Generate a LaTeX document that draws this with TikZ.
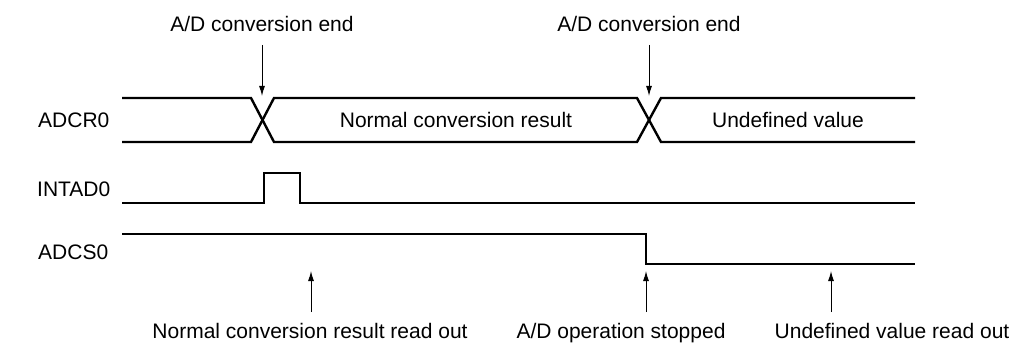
\documentclass[tikz,border=0pt]{standalone}
\usepackage{fontspec}
\setmainfont{Liberation Sans}
\usepackage{tikz}
\usetikzlibrary{arrows.meta, positioning}

\begin{document}
\begin{tikzpicture}[
  x=1pt, y=-1pt,
  sig/.style={line width=2.4pt, line join=miter},
  lbl/.style={inner sep=0pt, anchor=base, font=\fontsize{21}{25}\selectfont},
  signame/.style={lbl, anchor=base west},
  arr/.style={-{Latex[length=10pt, width=6pt]}, line width=1pt}
]
  \useasboundingbox (0,0) rectangle (1016,347);

  % signal names
  \node[signame] (adcr) at (38,128) {ADCR0};
  \node[signame] (intad) at (37,197) {INTAD0};
  \node[signame] (adcs) at (38,259) {ADCS0};

  % ADCR0 bus
  \draw[sig] (122,98) -- (251,98) -- (274,142) -- (637,142) -- (661,98) -- (915,98);
  \draw[sig] (122,142) -- (251,142) -- (274,98) -- (637,98) -- (661,142) -- (915,142);
  \node[lbl] (res) at (456,128) {Normal conversion result};
  \node[lbl] (undef) at (788,128) {Undefined value};

  % INTAD0
  \draw[sig] (122,203) -- (264,203) -- (264,173) -- (300,173) -- (300,203) -- (915,203);

  % ADCS0
  \draw[sig] (122,234) -- (646,234) -- (646,264) -- (915,264);

  % points of the events
  \coordinate (x1) at (262,96);
  \coordinate (x2) at (649,96);
  \coordinate (r1) at (311,271);
  \coordinate (r2) at (646,271);
  \coordinate (r3) at (831,271);

  % labels
  \node[lbl] (end1) at (262,32) {A/D conversion end};
  \node[lbl] (end2) at (649,32) {A/D conversion end};
  \node[lbl] (rdres) at (310,338) {Normal conversion result read out};
  \node[lbl] (stop) at (621,338) {A/D operation stopped};
  \node[lbl] (rdund) at (892,338) {Undefined value read out};

  \draw[arr, shorten <=13pt] (end1.base) -- (x1);
  \draw[arr, shorten <=13pt] (end2.base) -- (x2);
  \draw[arr, shorten <=26pt] (rdres.base -| r1) -- (r1);
  \draw[arr, shorten <=26pt] (stop.base -| r2) -- (r2);
  \draw[arr, shorten <=26pt] (rdund.base -| r3) -- (r3);
\end{tikzpicture}
\end{document}
